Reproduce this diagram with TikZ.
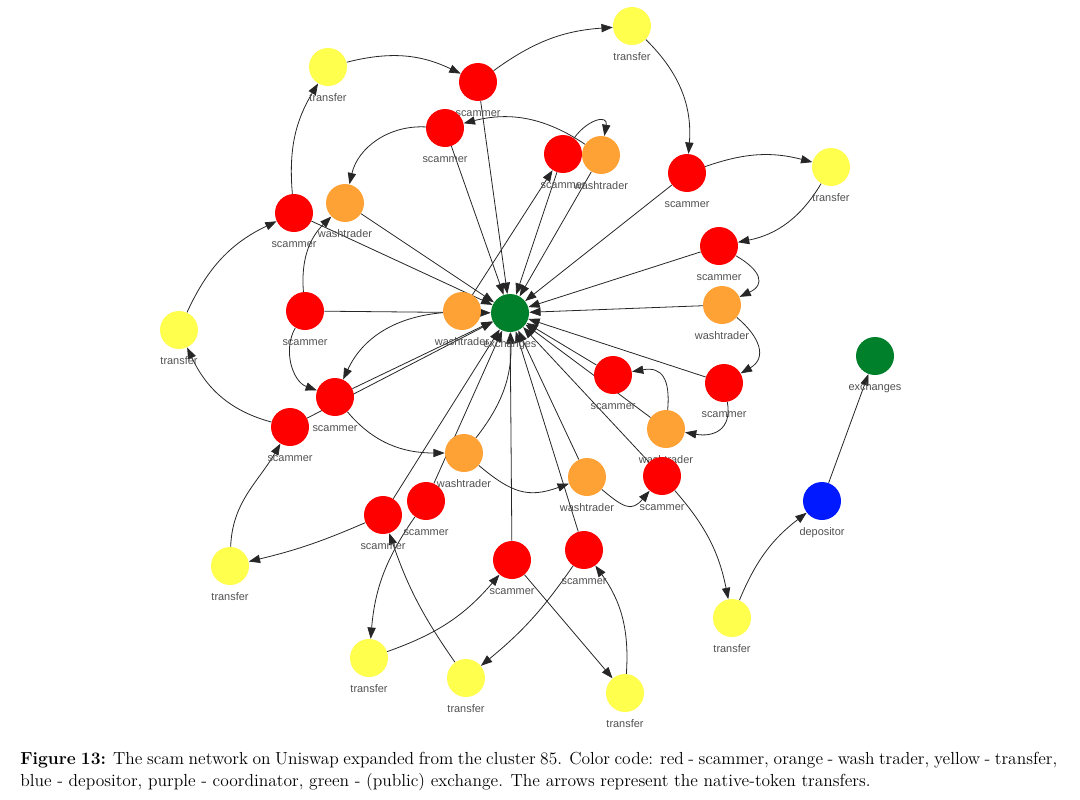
\documentclass[tikz,border=0pt]{standalone}
\usepackage{fontspec}
\usetikzlibrary{arrows.meta}
\newfontfamily\lblfont{Liberation Sans}
\definecolor{scred}{HTML}{FF0000}
\definecolor{wtorange}{HTML}{FFA236}
\definecolor{tryellow}{HTML}{FFFF4D}
\definecolor{exgreen}{HTML}{00802A}
\definecolor{dpblue}{HTML}{0019FF}
\definecolor{lblgray}{HTML}{505050}
\definecolor{edgecol}{HTML}{262626}
\pgfdeclarelayer{background}
\pgfsetlayers{background,main}
\tikzset{
  nd/.style={circle, minimum size=28.5pt, inner sep=0pt, draw=none},
  sc/.style={nd, fill=scred},
  wt/.style={nd, fill=wtorange},
  tr/.style={nd, fill=tryellow},
  ex/.style={nd, fill=exgreen},
  dp/.style={nd, fill=dpblue},
  lbl/.style={font=\lblfont\fontsize{8.2}{9}\selectfont, text=lblgray, inner sep=0pt, anchor=base},
  edge/.style={draw=edgecol, line width=0.6pt, -{Triangle[length=8.5pt,width=6.2pt]}},
  captxt/.style={font=\fontsize{13.1}{16}\selectfont, inner sep=0pt, anchor=base west},
}
\newcommand\mknode[5]{%
  \node[#2] (#1) at (#3,-#4) {};
  \node[lbl] (#1l) at ([yshift=-25.9pt]#1.center) {#5};}
\begin{document}
\begin{tikzpicture}[x=0.75pt,y=0.75pt]
\useasboundingbox (0,0) rectangle (1080,-799);
% nodes
\mknode{e}{ex}{510}{313}{exchanges}
\mknode{t1}{tr}{328}{67}{transfer}
\mknode{s1}{sc}{478}{82}{scammer}
\mknode{t2}{tr}{632}{26}{transfer}
\mknode{s2}{sc}{445}{128}{scammer}
\mknode{s3}{sc}{563}{154}{scammer}
\mknode{w1}{wt}{601}{155}{washtrader}
\mknode{s4}{sc}{687}{173}{scammer}
\mknode{t3}{tr}{831}{167}{transfer}
\mknode{w2}{wt}{345}{203}{washtrader}
\mknode{s5}{sc}{294}{213}{scammer}
\mknode{s6}{sc}{719}{246}{scammer}
\mknode{w3}{wt}{722}{305}{washtrader}
\mknode{s7}{sc}{305}{311}{scammer}
\mknode{t4}{tr}{179}{330}{transfer}
\mknode{w4}{wt}{462}{311}{washtrader}
\mknode{e2}{ex}{875}{356}{exchanges}
\mknode{s8}{sc}{613}{375}{scammer}
\mknode{s9}{sc}{724}{383}{scammer}
\mknode{s10}{sc}{335}{397}{scammer}
\mknode{s11}{sc}{290}{427}{scammer}
\mknode{w5}{wt}{666}{429}{washtrader}
\mknode{w6}{wt}{464}{453}{washtrader}
\mknode{s12}{sc}{662}{476}{scammer}
\mknode{w7}{wt}{587}{477}{washtrader}
\mknode{d}{dp}{822}{501}{depositor}
\mknode{s13}{sc}{426}{501}{scammer}
\mknode{s14}{sc}{383}{515}{scammer}
\mknode{t5}{tr}{230}{566}{transfer}
\mknode{s15}{sc}{512}{560}{scammer}
\mknode{s16}{sc}{584}{550}{scammer}
\mknode{t6}{tr}{732}{618}{transfer}
\mknode{t7}{tr}{369}{658}{transfer}
\mknode{t8}{tr}{466}{678}{transfer}
\mknode{t9}{tr}{625}{693}{transfer}
% edges
\begin{pgfonlayer}{background}
\foreach \a in {s1,s2,s3,w1,s4,s6,w3,s9,s8,w5,s12,w7,s16,s15,s13,s14,s11,s10,s7,s5,w2}
  \draw[edge] (\a) -- (e);
\draw[edge] (w6) to[bend right=20] (e);
\draw[edge] (w4) -- (s3);
\draw[edge] (t1) to[bend left=20] (s1);
\draw[edge] (s1) to[bend left=16] (t2);
\draw[edge] (t2) to[bend left=25] (s4);
\draw[edge] (s5) to[bend left=18] (t1);
\draw[edge] (s2) to[bend right=40] (w2);
\draw[edge] (w1) to[bend right=24] (s2);
\draw[edge] (s3) to[out=55,in=80,looseness=1.9] (w1);
\draw[edge] (s4) to[bend left=17] (t3);
\draw[edge] (t3) to[bend left=24] (s6);
\draw[edge] (s6) to[out=-30,in=25,looseness=1.8] (w3);
\draw[edge] (w3) to[out=-40,in=30,looseness=1.4] (s9);
\draw[edge] (s9) to[out=-80,in=-10,looseness=1.4] (w5);
\draw[edge] (w5) to[out=85,in=10,looseness=1.5] (s8);
\draw[edge] (w7) to[out=-40,in=-130,looseness=1.5] (s12);
\draw[edge] (s12) to[bend left=15] (t6);
\draw[edge] (t6) to[bend left=15] (d);
\draw[edge] (d) -- (e2);
\draw[edge] (s7) to[out=-120,in=160] (s10);
\draw[edge] (w4) to[out=185,in=65] (s10);
\draw[edge] (s10) to[out=-50,in=180] (w6);
\draw[edge] (w6) to[out=-40,in=200,looseness=1.2] (w7);
\draw[edge] (s11) to[out=165,in=-65] (t4);
\draw[edge] (t5) to[out=88,in=-120] (s11);
\draw[edge] (s14) to[bend left=5] (t5);
\draw[edge] (s13) to[bend right=15] (t7);
\draw[edge] (t7) to[bend right=15] (s15);
\draw[edge] (t8) to[bend left=8] (s14);
\draw[edge] (s16) to[bend left=8] (t8);
\draw[edge] (s15) -- (t9);
\draw[edge] (t9) to[bend right=20] (s16);
\draw[edge] (t4) to[bend left=20] (s5);
\draw[edge] (s7) to[bend left=25] (w2);
\end{pgfonlayer}
% caption
\node[captxt] (cap1) at (20,-764) {\makebox[777.75pt][s]{\textbf{Figure 13:} The scam network on Uniswap expanded from the cluster 85. Color code: red - scammer, orange - wash trader, yellow - transfer,}};
\node[captxt] (cap2) at (20,-786) {blue - depositor, purple - coordinator, green - (public) exchange. The arrows represent the native-token transfers.};
\end{tikzpicture}
\end{document}
